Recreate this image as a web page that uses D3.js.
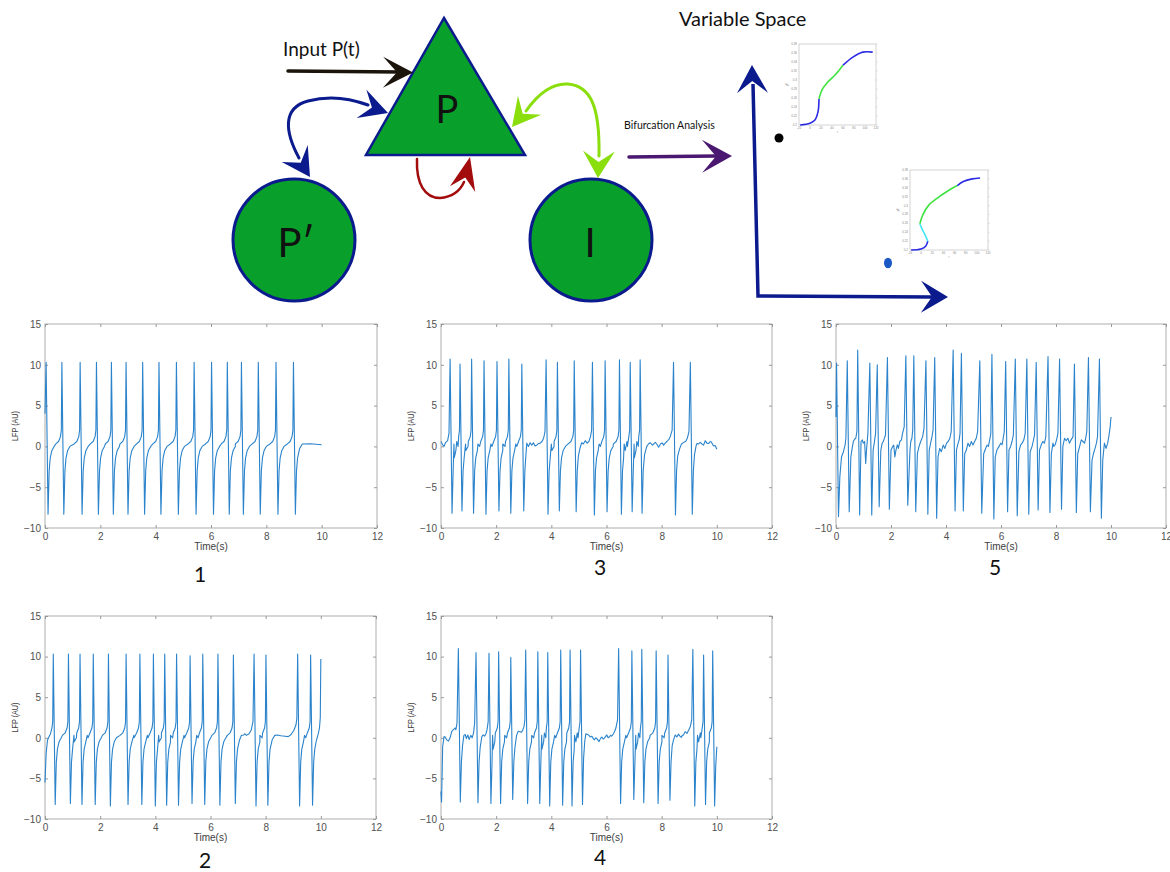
<!DOCTYPE html>
<html>
<head>
<meta charset="utf-8">
<script src="https://cdn.jsdelivr.net/npm/d3@7"></script>
<style>
  body { margin: 0; background: #fff; }
  svg { display: block; }
</style>
</head>
<body>
<svg id="fig" width="1170" height="872"></svg>
<script>
// ---------- LFP panels ----------
const timeTicks = [0, 2, 4, 6, 8, 10, 12];
const lfpTicks = [-10, -5, 0, 5, 10, 15];
const timeEnd = 10;

// spike events: [peak time (s), peak LFP, trough LFP]
const spikes1 = [[0.04,10.3,-8.3],[0.61,10.3,-8.3],[1.27,10.3,-8.3],[1.86,10.3,-8.3],[2.40,10.3,-8.3],[2.93,10.3,-8.3],[3.53,10.3,-8.3],[4.12,10.3,-8.3],[4.75,10.3,-8.3],[5.39,10.3,-8.3],[6.02,10.3,-8.3],[6.59,10.3,-8.3],[7.10,10.3,-8.3],[7.71,10.3,-8.3],[8.35,10.3,-8.3],[8.98,10.3,-8.3]];
const spikes2 = [[0.30,10.3,-8.2],[0.85,10.3,-8.1],[1.27,10.3,-8.2],[1.75,10.3,-8.2],[2.30,10.3,-8.4],[2.94,10.3,-8.2],[3.44,10.3,-8.2],[3.93,10.3,-8.4],[4.34,10.3,-8.3],[4.77,10.3,-8.3],[5.26,10.1,-8.1],[5.72,10.3,-8.2],[6.27,10.3,-8.3],[6.83,10.2,-8.1],[7.58,10.3,-8.4],[8.01,10.2,-8.3],[9.16,10.3,-8.4],[9.63,10.2,-8.3]];
const spikes3 = [[0.33,10.7,-8.2],[0.69,10.1,-7.9],[1.11,10.7,-8.2],[1.56,10.5,-8.3],[2.03,10.4,-7.9],[2.46,10.7,-8.2],[2.93,10.1,-7.9],[3.81,10.6,-8.3],[4.22,10.3,-7.9],[4.83,10.5,-8.0],[5.49,10.3,-8.4],[5.95,10.5,-8.0],[6.47,10.6,-8.3],[6.86,10.3,-8.0],[7.22,10.6,-8.2],[8.43,10.3,-8.4],[9.04,10.3,-8.3]];
const spikes4 = [[0.63,11.0,-7.9],[1.27,10.5,-8.0],[1.74,10.4,-8.1],[2.09,10.6,-8.1],[2.53,9.9,-7.6],[3.07,10.8,-8.1],[3.51,10.6,-8.1],[3.87,10.5,-8.4],[4.34,10.8,-8.3],[4.68,10.8,-8.4],[5.06,10.8,-8.2],[6.44,11.0,-8.1],[6.92,10.7,-7.6],[7.28,10.9,-8.0],[7.80,10.7,-8.1],[8.23,10.2,-7.7],[9.13,10.9,-8.4],[9.52,10.2,-8.2],[9.85,10.7,-8.4]];
const spikes5 = [[0.02,10.2,-8.6],[0.41,10.5,-8.0],[0.79,11.8,-8.4],[1.23,10.2,-8.4],[1.50,10.0,-7.4],[1.87,10.9,-7.7],[2.54,11.1,-7.2],[2.83,11.1,-8.0],[3.27,10.5,-8.3],[3.59,10.9,-8.8],[4.26,11.8,-7.9],[4.56,11.4,-7.9],[5.23,10.5,-8.2],[5.67,11.3,-8.9],[6.17,10.4,-8.0],[6.52,10.7,-8.5],[6.94,10.7,-8.3],[7.28,10.3,-7.8],[7.71,11.0,-8.1],[8.13,10.7,-7.7],[8.67,10.1,-8.1],[9.18,10.9,-8.0],[9.58,10.7,-8.8]];

// inter-spike samples [t, LFP]; gaps without samples use the regular waveform below
const between1 = [[0,4.0],[9.09,-3.0],[9.13,-1.4],[9.20,-0.3],[9.30,0.3],[9.60,0.32],[10.0,0.2]];
const between2 = [[0,-5.5],[0.04,-2.0],[0.09,-0.3],[0.14,0.1],[0.20,0.5],[0.25,1.2],[0.28,2.0],
  [6.94,-3.0],[6.98,-1.4],[7.05,-0.3],[7.12,0.3],[7.20,0.35],[7.25,0.5],[7.30,0.3],[7.40,0.5],[7.48,1.0],[7.54,2.0],
  [8.12,-3.0],[8.16,-1.4],[8.24,-0.2],[8.33,0.3],[8.42,0.35],[8.55,0.25],[8.70,0.2],[8.82,0.15],[8.92,0.4],[9.02,0.9],[9.10,1.6],[9.13,2.4],
  [9.74,-3.0],[9.78,-1.4],[9.84,-0.3],[9.90,0.4],[9.95,1.2],[9.98,2.5],[10.0,9.7]];
const between3 = [[0,0.6],[0.06,0.2],[0.11,0.0],[0.17,0.5],[0.24,0.7],[0.29,1.6],
  [3.04,-3.0],[3.08,-1.0],[3.11,0.4],[3.17,0.0],[3.23,0.45],[3.29,0.15],[3.35,0.45],[3.41,0.05],[3.47,0.15],[3.53,0.35],[3.60,0.4],[3.66,0.6],[3.72,1.0],[3.77,1.8],
  [4.94,-3.0],[4.98,-1.2],[5.04,-0.2],[5.10,0.45],[5.16,0.3],[5.23,0.7],[5.30,0.4],[5.36,0.6],[5.42,1.2],[5.46,2.0],
  [7.33,-3.0],[7.38,-1.0],[7.46,0.0],[7.52,0.3],[7.58,0.45],[7.67,0.15],[7.72,0.35],[7.77,0.5],[7.84,0.2],[7.89,-0.1],[7.97,0.35],[8.03,0.4],[8.07,0.15],[8.13,0.4],[8.19,0.6],[8.27,0.9],[8.31,1.2],[8.38,2.0],
  [8.54,-3.0],[8.58,-1.2],[8.65,-0.3],[8.72,0.3],[8.80,0.5],[8.87,0.6],[8.93,1.0],[8.99,1.8],
  [9.15,-3.0],[9.19,-1.0],[9.25,0.1],[9.28,0.35],[9.34,0.3],[9.40,0.5],[9.46,0.3],[9.52,0.15],[9.58,0.7],[9.64,0.4],[9.70,0.35],[9.76,0.6],[9.80,0.55],[9.88,0.05],[9.94,0.1],[10.0,-0.35]];
const between4 = [[0,-6.6],[0.02,-7.9],[0.06,-1.1],[0.11,0.15],[0.15,0.1],[0.21,-0.26],[0.27,-0.4],[0.33,0.0],[0.39,0.8],[0.45,1.0],[0.51,1.2],[0.54,1.0],[0.58,1.8],
  [0.74,-3.0],[0.78,-1.0],[0.83,0.3],[0.88,0.4],[0.92,-0.1],[0.97,0.35],[1.02,-0.2],[1.08,0.3],[1.13,0.0],[1.18,0.6],[1.22,1.8],
  [1.38,-3.0],[1.42,-1.2],[1.48,0.15],[1.53,0.35],[1.58,0.2],[1.63,0.5],[1.67,1.0],[1.71,2.0],
  [2.64,-3.0],[2.68,-1.2],[2.74,0.3],[2.80,0.8],[2.87,0.75],[2.92,0.7],[2.97,1.0],[3.01,1.4],[3.04,2.2],
  [5.17,-2.5],[5.21,-0.5],[5.25,0.5],[5.35,0.35],[5.41,0.1],[5.47,0.2],[5.52,-0.1],[5.56,-0.26],[5.61,0.0],[5.65,-0.1],[5.73,-0.47],[5.78,-0.1],[5.83,0.1],[5.88,-0.15],[5.93,0.0],[6.01,0.35],[6.06,0.0],[6.10,0.1],[6.15,0.3],[6.19,0.2],[6.25,0.5],[6.29,0.75],[6.34,1.2],[6.40,2.2],
  [8.34,-3.0],[8.38,-1.0],[8.43,-0.26],[8.49,0.35],[8.55,0.1],[8.61,0.45],[8.66,0.2],[8.71,0.05],[8.75,0.3],[8.79,0.35],[8.85,0.75],[8.92,0.55],[8.98,0.95],[9.04,1.4],[9.09,2.2],
  [9.96,-3.5],[10.0,-1.1]];
const between5 = [[0,3.6],
  [0.14,-3.7],[0.20,-1.3],[0.27,-0.65],[0.33,0.16],[0.36,1.0],
  [0.54,-1.3],[0.58,-0.4],[0.63,0.6],[0.67,0.85],[0.72,1.0],[0.76,1.8],
  [0.91,0.6],[0.96,0.8],[0.99,0.4],[1.04,0.6],[1.08,-2.1],[1.11,-0.45],[1.16,1.6],
  [1.35,-0.45],[1.39,0.4],[1.44,1.6],
  [1.63,-0.45],[1.68,0.4],[1.72,0.6],[1.75,0.9],[1.80,1.4],
  [2.00,-0.45],[2.06,0.0],[2.10,0.16],[2.14,-1.3],[2.18,-0.45],[2.23,0.2],[2.27,-0.25],[2.32,0.6],[2.38,0.8],[2.42,1.6],[2.48,2.4],
  [2.69,-0.5],[2.72,0.6],[2.76,1.0],[2.79,2.0],
  [2.96,-0.9],[3.02,0.0],[3.08,0.6],[3.15,1.2],[3.20,2.2],
  [3.39,-0.45],[3.44,0.4],[3.48,1.0],[3.53,2.0],
  [3.71,-1.3],[3.77,-0.25],[3.83,-0.65],[3.90,0.16],[3.96,-0.25],[4.02,0.4],[4.08,0.6],[4.14,1.0],[4.19,1.8],
  [4.38,-0.45],[4.44,0.4],[4.48,0.8],[4.51,1.6],
  [4.68,-0.9],[4.74,-0.45],[4.80,0.4],[4.86,0.0],[4.92,0.6],[4.98,0.16],[5.04,0.6],[5.10,1.0],[5.15,1.8],
  [5.37,-0.9],[5.44,-0.25],[5.49,0.16],[5.54,0.0],[5.59,0.8],[5.63,1.6],
  [5.79,-1.3],[5.85,-0.45],[5.93,0.0],[5.99,0.4],[6.04,0.2],[6.08,1.0],[6.12,1.8],
  [6.29,-0.45],[6.35,0.0],[6.40,0.6],[6.45,1.4],
  [6.65,-0.65],[6.71,0.16],[6.77,0.4],[6.83,0.8],[6.88,1.6],
  [7.06,-0.65],[7.13,0.0],[7.17,0.6],[7.22,1.4],
  [7.40,-0.45],[7.46,0.16],[7.52,0.6],[7.58,0.4],[7.63,1.2],
  [7.83,-0.9],[7.89,0.4],[7.92,0.0],[7.97,0.2],[8.02,0.8],[8.07,1.6],
  [8.25,0.0],[8.31,1.0],[8.37,0.7],[8.43,1.0],[8.49,0.4],[8.55,0.8],[8.62,1.2],
  [8.79,-0.9],[8.86,0.0],[8.92,0.8],[8.98,0.6],[9.04,0.4],[9.08,1.0],[9.12,1.8],
  [9.31,-1.7],[9.36,-0.9],[9.42,-0.25],[9.47,0.4],[9.51,1.2],
  [9.70,-1.7],[9.76,0.4],[9.82,-0.25],[9.88,0.4],[9.92,1.2],[9.97,2.4],[10.0,3.6]];

// regular waveform around a spike
const troughLag = 0.07;                                                  // s from peak to trough
const recoveryShape = [[0.04,-3.0],[0.08,-1.4],[0.14,-0.5],[0.22,0.0]];  // s after trough
const onsetShape = [[-0.22,0.3],[-0.12,0.6],[-0.05,1.2],[-0.02,2.0]];    // s before peak

// ---------- bifurcation insets ----------
const bifXTicks = [-20, 0, 20, 40, 60, 80, 100, 120];
const bifYTicks = [0.2, 0.22, 0.24, 0.26, 0.28, 0.3, 0.32, 0.34, 0.36, 0.38];
const bif1Lower = [[-18,0.200],[0,0.204],[9,0.211],[14.5,0.229],[16.4,0.258]];
const bif1Middle = [[16.4,0.258],[21.8,0.278],[32.7,0.296],[45.5,0.311],[60,0.333]];
const bif1Upper = [[60,0.333],[78,0.351],[96,0.362],[114,0.362]];
const bif2Lower = [[-18,0.200],[-0.5,0.202],[8.4,0.209],[11.9,0.220]];
const bif2Fold = [[11.9,0.220],[6.6,0.235],[1.3,0.248],[-2.3,0.259]];
const bif2Middle = [[-2.3,0.259],[3,0.279],[13.7,0.301],[31.4,0.319],[49.1,0.334],[65,0.345]];
const bif2Upper = [[65,0.345],[75.7,0.354],[91.6,0.360],[105.8,0.362]];

// ---------- drawing ----------
const svg = d3.select("#fig");
const tickFont = "'Liberation Sans', Arial, sans-serif";
const diagFont = "Lato, 'Open Sans', sans-serif";

function buildTrace(spikes, between, tEnd) {
  const pts = [];
  for (let g = 0; g <= spikes.length; g++) {
    const a = g === 0 ? -Infinity : spikes[g - 1][0] + troughLag;
    const b = g === spikes.length ? Infinity : spikes[g][0];
    const read = between.filter(([t]) => t > a && t < b);
    if (read.length) {
      pts.push(...read);
    } else {
      if (g > 0) recoveryShape.forEach(([dt, v]) => { const t = a + dt; if (t < b - 0.06) pts.push([t, v]); });
      if (g < spikes.length) onsetShape.forEach(([dt, v]) => { const t = b + dt; if (t > a + 0.05) pts.push([t, v]); });
    }
    if (g < spikes.length) {
      const [tp, pk, tr] = spikes[g];
      pts.push([tp, pk], [tp + troughLag, tr]);
    }
  }
  return pts.filter(([t]) => t >= 0 && t <= tEnd).sort((p, q) => p[0] - q[0]);
}

const panels = [
  { label: "1", spikes: spikes1, between: between1, left: 45,  top: 324, w: 332, h: 204, lx: 200, ly: 582 },
  { label: "3", spikes: spikes3, between: between3, left: 441, top: 324, w: 331, h: 204, lx: 600, ly: 575 },
  { label: "5", spikes: spikes5, between: between5, left: 836, top: 324, w: 330, h: 204, lx: 995, ly: 575 },
  { label: "2", spikes: spikes2, between: between2, left: 45,  top: 616, w: 331, h: 203, lx: 205, ly: 868 },
  { label: "4", spikes: spikes4, between: between4, left: 441, top: 616, w: 331, h: 203, lx: 600, ly: 865 }
];

panels.forEach(p => {
  const g = svg.append("g").attr("transform", `translate(${p.left},${p.top})`);
  const x = d3.scaleLinear().domain([0, 12]).range([0, p.w]);
  const y = d3.scaleLinear().domain([-10, 15]).range([p.h, 0]);

  const styleAxis = sel => {
    sel.select(".domain").remove();
    sel.selectAll(".tick line").attr("stroke", "#9a9a9a");
    sel.selectAll(".tick text").attr("fill", "#505050").style("font-family", tickFont).style("font-size", "10px");
  };
  g.append("g").attr("transform", `translate(0,${p.h})`)
    .call(d3.axisBottom(x).tickValues(timeTicks).tickSize(-3).tickPadding(5)).call(styleAxis);
  g.append("g").call(d3.axisTop(x).tickValues(timeTicks).tickSize(-3).tickFormat("")).call(styleAxis);
  g.append("g").call(d3.axisLeft(y).tickValues(lfpTicks).tickSize(-3).tickPadding(4)).call(styleAxis);
  g.append("g").attr("transform", `translate(${p.w},0)`)
    .call(d3.axisRight(y).tickValues(lfpTicks).tickSize(-3).tickFormat("")).call(styleAxis);
  g.append("rect").attr("width", p.w).attr("height", p.h)
    .attr("fill", "none").attr("stroke", "#9a9a9a").attr("stroke-width", 0.8);

  const trace = buildTrace(p.spikes, p.between, timeEnd);
  g.append("path").datum(trace)
    .attr("fill", "none").attr("stroke", "#2a83cb").attr("stroke-width", 1.1)
    .attr("stroke-linejoin", "round")
    .attr("d", d3.line().x(d => x(d[0])).y(d => y(d[1])));

  g.append("text").attr("x", p.w / 2).attr("y", p.h + 22).attr("text-anchor", "middle")
    .style("font-family", tickFont).style("font-size", "10px").attr("fill", "#404040").text("Time(s)");
  g.append("text").attr("transform", `translate(-27,${p.h / 2}) rotate(-90)`).attr("text-anchor", "middle")
    .attr("textLength", 30).attr("lengthAdjust", "spacingAndGlyphs")
    .style("font-family", tickFont).style("font-size", "9px").attr("fill", "#404040").text("LFP (AU)");

  svg.append("text").attr("x", p.lx).attr("y", p.ly).attr("text-anchor", "middle")
    .style("font-family", diagFont).style("font-size", "21px").attr("fill", "#111").text(p.label);
});

// ---------- circuit diagram ----------
const green = "#08a02a", navy = "#0b1b8e";
const diag = svg.append("g");

function arrowHead(tip, angleDeg, len, half, notch, color) {
  const a = angleDeg * Math.PI / 180;
  const ux = Math.cos(a), uy = Math.sin(a), px = -uy, py = ux;
  const bx = tip[0] - ux * len, by = tip[1] - uy * len;
  const nx = tip[0] - ux * (len - notch), ny = tip[1] - uy * (len - notch);
  diag.append("path")
    .attr("d", `M${tip[0]},${tip[1]}L${bx + px * half},${by + py * half}L${nx},${ny}L${bx - px * half},${by - py * half}Z`)
    .attr("fill", color);
}
function stroke(d, color, w) {
  diag.append("path").attr("d", d).attr("fill", "none").attr("stroke", color)
    .attr("stroke-width", w).attr("stroke-linecap", "round");
}

// populations
diag.append("path").attr("d", "M444,18L525,155L366,155Z")
  .attr("fill", green).attr("stroke", navy).attr("stroke-width", 2.5).attr("stroke-linejoin", "miter");
diag.append("circle").attr("cx", 294).attr("cy", 240).attr("r", 61)
  .attr("fill", green).attr("stroke", navy).attr("stroke-width", 3);
diag.append("circle").attr("cx", 591).attr("cy", 240).attr("r", 61)
  .attr("fill", green).attr("stroke", navy).attr("stroke-width", 3);

diag.append("text").attr("x", 447).attr("y", 123).attr("text-anchor", "middle")
  .style("font-family", diagFont).style("font-size", "38px").attr("fill", "#111").text("P");
diag.append("text").attr("x", 296).attr("y", 257).attr("text-anchor", "middle")
  .style("font-family", diagFont).style("font-size", "40px").attr("fill", "#111").text("P\u2032");
diag.append("text").attr("x", 590).attr("y", 257).attr("text-anchor", "middle")
  .style("font-family", diagFont).style("font-size", "40px").attr("fill", "#111").text("I");

// external input
diag.append("text").attr("x", 283).attr("y", 56)
  .style("font-family", diagFont).style("font-size", "19px").attr("fill", "#111").text("Input P(t)");
stroke("M288,71L400,72", "#1a140a", 3.5);
arrowHead([413, 72.5], 0.5, 30, 15.5, 14, "#1a140a");

// P <-> P'
stroke("M299,158C285,132 282,108 308,101C330,95 352,99 368,105", navy, 3);
arrowHead([388, 113], 19, 28, 15, 11, navy);
arrowHead([310, 177], 57, 28, 15.5, 11, navy);

// P self-connection
stroke("M417,159C416,184 425,198 440,198C452,197 460,191 464,182", "#a30c0c", 2.5);
arrowHead([470, 157], -77, 33, 13, 12, "#a30c0c");

// P <-> I
stroke("M526,111C540,91 553,83 568,84C590,86 600,105 599,156", "#8ade0c", 3);
arrowHead([512, 127], 129, 28, 15, 11, "#8ade0c");
arrowHead([598, 178], 92, 27, 16, 11, "#8ade0c");

// bifurcation analysis arrow
diag.append("text").attr("x", 624).attr("y", 129)
  .style("font-family", diagFont).style("font-size", "10.5px").attr("fill", "#111").text("Bifurcation Analysis");
stroke("M629,157L716,156", "#4a1870", 3.5);
arrowHead([732, 156], -0.5, 30, 16.5, 14, "#4a1870");

// variable space axes
diag.append("text").attr("x", 679).attr("y", 26)
  .style("font-family", diagFont).style("font-size", "20px").attr("fill", "#111").text("Variable Space");
diag.append("path").attr("d", "M753,84L758,296L932,297").attr("fill", "none")
  .attr("stroke", navy).attr("stroke-width", 3.5).attr("stroke-linejoin", "miter");
arrowHead([752, 65], -91, 28, 15.5, 12, navy);
arrowHead([948, 297], 0.5, 27, 16, 11, navy);

diag.append("circle").attr("cx", 779).attr("cy", 138).attr("r", 4.5).attr("fill", "#000");
diag.append("ellipse").attr("cx", 888).attr("cy", 263).attr("rx", 4).attr("ry", 5.2).attr("fill", "#1859c4");

// inset bifurcation diagrams
const bifColors = { blue: "#2b2be4", green: "#3fe23f", cyan: "#45e6f2" };
function inset(left, top, w, h, segments) {
  const g = svg.append("g").attr("transform", `translate(${left},${top})`);
  const x = d3.scaleLinear().domain([-20, 120]).range([0, w]);
  const y = d3.scaleLinear().domain([0.2, 0.38]).range([h, 0]);
  g.append("rect").attr("width", w).attr("height", h).attr("fill", "#fff")
    .attr("stroke", "#b5b5b5").attr("stroke-width", 0.6);
  bifYTicks.forEach(v => {
    g.append("line").attr("x1", w).attr("x2", w + 1.5).attr("y1", y(v)).attr("y2", y(v))
      .attr("stroke", "#c0c0c0").attr("stroke-width", 0.5);
    g.append("text").attr("x", -2).attr("y", y(v) + 1).attr("text-anchor", "end")
      .style("font-family", tickFont).style("font-size", "3px").attr("fill", "#888").text(d3.format(".2~f")(v));
  });
  bifXTicks.forEach(v => {
    g.append("text").attr("x", x(v)).attr("y", h + 4).attr("text-anchor", "middle")
      .style("font-family", tickFont).style("font-size", "3px").attr("fill", "#888").text(v);
  });
  g.append("text").attr("x", w / 2).attr("y", h + 8).attr("text-anchor", "middle")
    .style("font-family", tickFont).style("font-size", "3px").attr("fill", "#888").text("r");
  g.append("text").attr("transform", `translate(-11,${h / 2}) rotate(-90)`).attr("text-anchor", "middle")
    .style("font-family", tickFont).style("font-size", "3px").attr("fill", "#888").text("y0");
  const line = d3.line().x(d => x(d[0])).y(d => y(d[1])).curve(d3.curveCatmullRom);
  segments.forEach(([pts, c]) => {
    g.append("path").datum(pts).attr("fill", "none").attr("stroke", bifColors[c])
      .attr("stroke-width", 1.6).attr("d", line);
  });
}
inset(799, 44, 77, 81, [[bif1Lower, "blue"], [bif1Middle, "green"], [bif1Upper, "blue"]]);
inset(910, 170, 78, 80, [[bif2Lower, "blue"], [bif2Fold, "cyan"], [bif2Middle, "green"], [bif2Upper, "blue"]]);
</script>
</body>
</html>
